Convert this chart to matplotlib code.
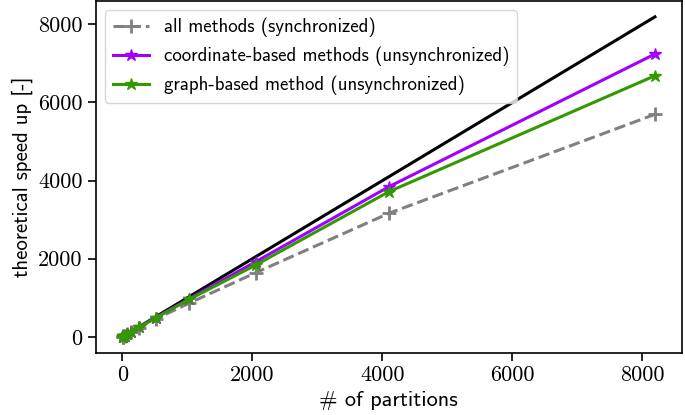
import matplotlib
matplotlib.use("Agg")
import matplotlib.pyplot as plt

partitions = [1, 2, 4, 8, 16, 32, 64, 128, 256, 512, 1024, 2048, 4096, 8192]
ideal = partitions
sync = [1, 2, 4, 7.8, 15.5, 30.5, 60, 118, 232, 455, 860, 1640, 3160, 5695]
coord = [1, 2, 4, 8, 15.9, 31.7, 63, 125, 248, 492, 975, 1920, 3840, 7240]
graph = [1, 2, 4, 8, 15.8, 31.4, 62, 123, 244, 484, 955, 1836, 3713, 6684]

labels = ["all methods (synchronized)",
          "coordinate-based methods (unsynchronized)",
          "graph-based method (unsynchronized)"]

plt.rcParams['font.family'] = ['cmss10', 'DejaVu Sans']
plt.rcParams['axes.unicode_minus'] = False

fig = plt.figure(figsize=(6.85, 4.15), dpi=100)
ax = fig.add_axes([0.140, 0.150, 0.855, 0.848])

ax.plot(partitions, ideal, color='black', lw=2.2)
ax.plot(partitions, sync, color='gray', lw=2.2, ls='--', marker='+', ms=10, mew=2, label=labels[0])
ax.plot(partitions, coord, color='#a000ff', lw=2.2, marker='*', ms=9, label=labels[1])
ax.plot(partitions, graph, color='#339900', lw=2.2, marker='*', ms=9, label=labels[2])

ax.set_xticks([0, 2000, 4000, 6000, 8000])
ax.set_yticks([0, 2000, 4000, 6000, 8000])
for t in ax.get_xticklabels() + ax.get_yticklabels():
    t.set_fontfamily('cmr10')
    t.set_fontsize(16)
ax.tick_params(length=6, width=1.2)
for s in ax.spines.values():
    s.set_linewidth(1.2)

ax.set_xlabel('# of partitions', fontsize=16)
ax.set_ylabel('theoretical speed up [-]', fontsize=15)

ax.legend(loc='upper left', fontsize=13.6, handlelength=1.9)

fig.savefig('out.png', dpi=100)
